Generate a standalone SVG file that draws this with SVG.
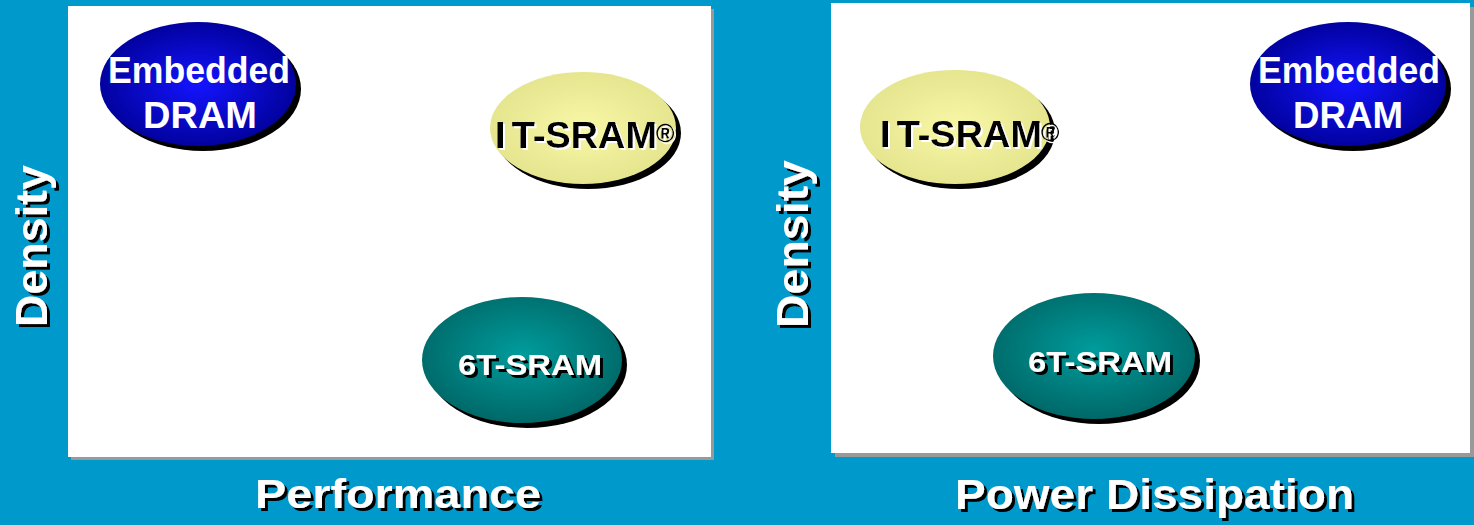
<svg xmlns="http://www.w3.org/2000/svg" width="1474" height="525" viewBox="0 0 1474 525">
  <defs>
    <radialGradient id="gBlue" cx="50%" cy="50%" r="55%">
      <stop offset="0" stop-color="#1414ff"/>
      <stop offset="1" stop-color="#000096"/>
    </radialGradient>
    <radialGradient id="gYellow" cx="50%" cy="50%" r="55%">
      <stop offset="0" stop-color="#f7f7a6"/>
      <stop offset="1" stop-color="#e4e48e"/>
    </radialGradient>
    <radialGradient id="gTeal" cx="50%" cy="45%" r="55%">
      <stop offset="0" stop-color="#009c9c"/>
      <stop offset="1" stop-color="#006868"/>
    </radialGradient>
    <!-- hard drop shadows for the lettering -->
    <filter id="shBlack" x="-10%" y="-20%" width="130%" height="150%">
      <feDropShadow dx="3" dy="3" stdDeviation="0" flood-color="#000000" flood-opacity="1"/>
    </filter>
    <filter id="shBlackRot" x="-20%" y="-20%" width="140%" height="150%">
      <feDropShadow dx="-3" dy="3" stdDeviation="0" flood-color="#000000" flood-opacity="1"/>
    </filter>
    <filter id="shWhite" x="-10%" y="-20%" width="130%" height="150%">
      <feDropShadow dx="2" dy="2" stdDeviation="0" flood-color="#ffffff" flood-opacity="1"/>
    </filter>
  </defs>
  <style>
    .t { font-family: "Liberation Sans", Arial, sans-serif; font-weight: bold; }
    .w { fill: #ffffff; }
    .k { fill: #000000; }
    .panel { fill: #ffffff; }
    .pshadow { fill: #999999; }
    .eshadow { fill: #000000; }
    .sb { filter: url(#shBlack); }
    .sbr { filter: url(#shBlackRot); }
    .sw { filter: url(#shWhite); }
  </style>

  <!-- background -->
  <rect x="0" y="0" width="1474" height="525" fill="#0099cc"/>

  <!-- chart panels -->
  <g id="panel-left">
    <rect class="pshadow" x="71" y="9" width="643" height="451"/>
    <rect class="panel" x="68" y="6" width="643" height="451"/>
  </g>
  <g id="panel-right">
    <rect class="pshadow" x="835" y="7" width="639" height="450"/>
    <rect class="panel" x="831" y="3" width="639" height="450"/>
  </g>

  <!-- axis labels -->
  <g id="axis-density-left" class="t" font-size="44">
    <text class="w sbr" transform="translate(47,246) rotate(-90)" text-anchor="middle" textLength="162" lengthAdjust="spacingAndGlyphs">Density</text>
  </g>
  <g id="axis-performance" class="t" font-size="40">
    <text class="w sb" x="255" y="508" textLength="286" lengthAdjust="spacingAndGlyphs">Performance</text>
  </g>
  <g id="axis-density-right" class="t" font-size="44">
    <text class="w sbr" transform="translate(808,244) rotate(-90)" text-anchor="middle" textLength="168" lengthAdjust="spacingAndGlyphs">Density</text>
  </g>
  <g id="axis-power" class="t" font-size="43">
    <text class="w sb" x="955" y="509" textLength="399" lengthAdjust="spacingAndGlyphs">Power Dissipation</text>
  </g>

  <!-- left chart: density vs performance -->
  <g id="edram-left">
    <ellipse class="eshadow" cx="203" cy="89" rx="98" ry="62"/>
    <ellipse cx="198" cy="84" rx="98" ry="62" fill="url(#gBlue)"/>
    <text class="t w" x="108" y="83" font-size="36" textLength="182" lengthAdjust="spacingAndGlyphs">Embedded</text>
    <text class="t w" x="143" y="128" font-size="36" textLength="114" lengthAdjust="spacingAndGlyphs">DRAM</text>
  </g>
  <g id="1tsram-left">
    <ellipse class="eshadow" cx="588" cy="133" rx="93" ry="56"/>
    <ellipse cx="583" cy="128" rx="93" ry="56" fill="url(#gYellow)"/>
    <text class="t k sw" x="495" y="148" font-size="36" textLength="162" lengthAdjust="spacingAndGlyphs">I<tspan dx="6">T-SRAM</tspan></text>
    <text class="t k sw" x="656" y="142" font-size="25">®</text>
  </g>
  <g id="6tsram-left">
    <ellipse class="eshadow" cx="527" cy="365" rx="100" ry="63"/>
    <ellipse cx="522" cy="360" rx="100" ry="63" fill="url(#gTeal)"/>
    <text class="t w sb" x="458" y="375" font-size="30" textLength="144" lengthAdjust="spacingAndGlyphs">6T-SRAM</text>
  </g>

  <!-- right chart: density vs power dissipation -->
  <g id="1tsram-right">
    <ellipse class="eshadow" cx="960" cy="132" rx="95" ry="57"/>
    <ellipse cx="955" cy="127" rx="95" ry="57" fill="url(#gYellow)"/>
    <text class="t k sw" x="880" y="147" font-size="37" textLength="162" lengthAdjust="spacingAndGlyphs">I<tspan dx="6">T-SRAM</tspan></text>
    <text class="t k sw" x="1041" y="141" font-size="25">®</text>
  </g>
  <g id="edram-right">
    <ellipse class="eshadow" cx="1353" cy="89" rx="98" ry="62"/>
    <ellipse cx="1348" cy="84" rx="98" ry="62" fill="url(#gBlue)"/>
    <text class="t w" x="1258" y="83" font-size="36" textLength="182" lengthAdjust="spacingAndGlyphs">Embedded</text>
    <text class="t w" x="1293" y="128" font-size="36" textLength="110" lengthAdjust="spacingAndGlyphs">DRAM</text>
  </g>
  <g id="6tsram-right">
    <ellipse class="eshadow" cx="1099" cy="361" rx="101" ry="63"/>
    <ellipse cx="1094" cy="356" rx="101" ry="63" fill="url(#gTeal)"/>
    <text class="t w sb" x="1028" y="372" font-size="30" textLength="144" lengthAdjust="spacingAndGlyphs">6T-SRAM</text>
  </g>

  <!-- no connectors in this chart -->
  <g id="connectors"/>
</svg>
